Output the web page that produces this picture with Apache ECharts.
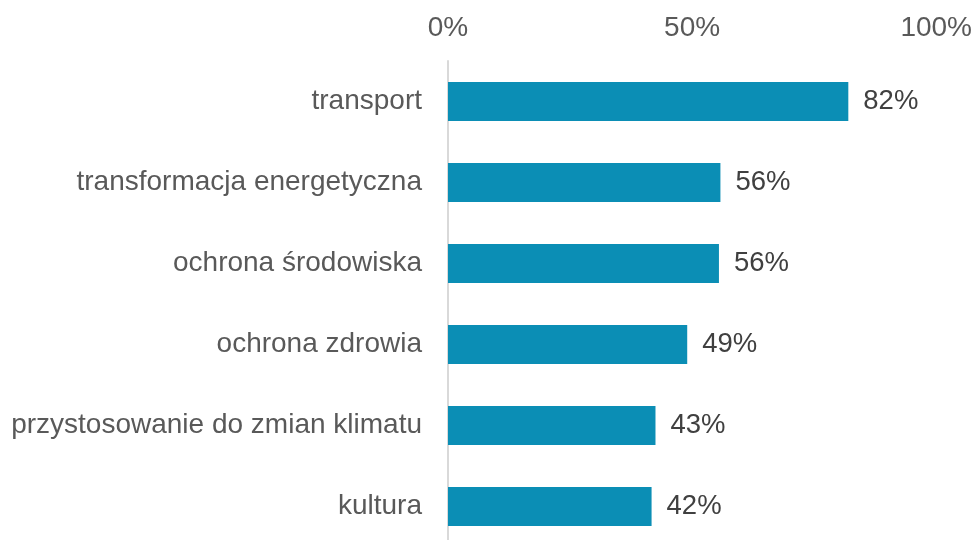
<!DOCTYPE html>
<html>
<head>
<meta charset="utf-8">
<script src="https://cdn.jsdelivr.net/npm/echarts@6/dist/echarts.min.js"></script>
<style>
  html, body { margin: 0; padding: 0; background: #fff; overflow: hidden; }
  #chart { width: 975px; height: 547px; }
</style>
</head>
<body>
<div id="chart"></div>
<script>
const categories = [
  'transport',
  'transformacja energetyczna',
  'ochrona środowiska',
  'ochrona zdrowia',
  'przystosowanie do zmian klimatu',
  'kultura'
]
const values = [82, 55.8, 55.5, 49, 42.5, 41.7]
const tickValues = [0, 50, 100]

// chart box is a bit taller than the window: the last band runs past the bottom edge
const myChart = echarts.init(document.getElementById('chart'))
const option = {
  animation: false,
  textStyle: { fontFamily: 'Liberation Sans, Arial, sans-serif' },
  grid: {
    left: 448,
    right: 37,
    top: 61,
    bottom: 0
  },
  xAxis: {
    type: 'value',
    position: 'top',
    min: tickValues[0],
    max: tickValues[tickValues.length - 1],
    interval: tickValues[1] - tickValues[0],
    axisLine: { show: false },
    axisTick: { show: false },
    splitLine: { show: false },
    axisLabel: {
      color: '#595959',
      fontSize: 28,
      margin: 19,
      formatter: '{value}%'
    }
  },
  yAxis: {
    type: 'category',
    inverse: true,
    data: categories,
    axisLine: { show: true, lineStyle: { color: '#D9D9D9', width: 2 } },
    axisTick: { show: false },
    axisLabel: {
      color: '#595959',
      fontSize: 28,
      margin: 26
    }
  },
  series: [
    {
      type: 'bar',
      data: values,
      barWidth: 39,
      itemStyle: { color: '#0B8EB5' },
      label: {
        show: true,
        position: 'right',
        distance: 15,
        color: '#404040',
        fontSize: 27.5,
        formatter: (p) => Math.round(p.value) + '%'
      }
    }
  ]
}
myChart.setOption(option)
window.addEventListener('resize', () => {
  myChart.resize()
})
</script>
</body>
</html>
